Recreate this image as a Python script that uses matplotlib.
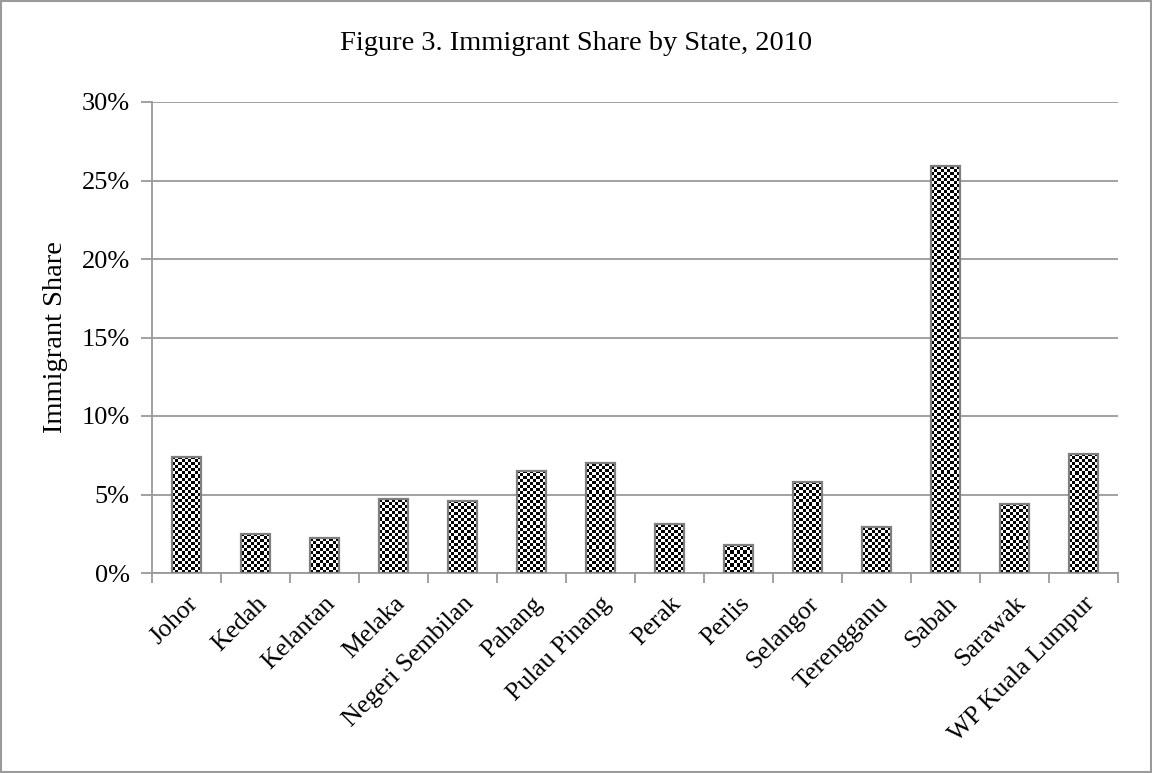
import matplotlib
matplotlib.use("Agg")
import matplotlib.pyplot as plt
import numpy as np
from matplotlib.patches import Rectangle
from matplotlib.ticker import FuncFormatter

states = ["Johor", "Kedah", "Kelantan", "Melaka", "Negeri Sembilan", "Pahang",
          "Pulau Pinang", "Perak", "Perlis", "Selangor", "Terengganu", "Sabah",
          "Sarawak", "WP Kuala Lumpur"]
share = [7.4, 2.5, 2.2, 4.7, 4.6, 6.5, 7.0, 3.1, 1.8, 5.8, 2.9, 25.9, 4.4, 7.6]

plt.rcParams['font.family'] = ['Liberation Serif', 'DejaVu Serif']
grey = '#9a9a9a'

fig = plt.figure(figsize=(11.52, 7.73), dpi=100)
ax = fig.add_axes([152 / 1152, 1 - 573 / 773, (1118 - 152) / 1152, (573 - 102) / 773])

x = np.arange(len(states))
bars = ax.bar(x, share, width=0.41, facecolor='none', edgecolor='#7f7f7f', linewidth=1.6, zorder=3)

# checkerboard fill, ~3 px cells, clipped to each bar
cell = 3
px_per_unit = 471 / 30
for b in bars:
    rows = max(int(b.get_height() * px_per_unit / cell), 1)
    cols = max(int(28 / cell), 1)
    pattern = np.indices((rows, cols)).sum(axis=0) % 2
    im = ax.imshow(pattern, cmap='gray', interpolation='nearest', aspect='auto',
                   extent=(b.get_x(), b.get_x() + b.get_width(), 0, b.get_height()),
                   zorder=2.9)
    im.set_clip_path(b)

ax.set_xlim(-0.5, len(states) - 0.5)
ax.set_ylim(0, 30)
ax.set_yticks(np.arange(0, 31, 5))
ax.yaxis.set_major_formatter(FuncFormatter(lambda v, p: f"{v:.0f}%"))
ax.yaxis.grid(True, color=grey, linewidth=1.3, zorder=0)
ax.set_axisbelow(True)

ax.set_xticks(x)
ax.set_xticklabels(states, rotation=45, ha='right', rotation_mode='anchor', fontsize=18.5)
ax.set_xticks(np.arange(-0.5, len(states) + 0.5, 1), minor=True)
ax.tick_params(axis='x', which='major', length=0, pad=14)
ax.tick_params(axis='x', which='minor', length=7, color=grey, width=1.3, direction='out')
ax.tick_params(axis='y', length=8, color=grey, width=1.3, labelsize=19, pad=8)

for s in ['top', 'right']:
    ax.spines[s].set_visible(False)
for s in ['left', 'bottom']:
    ax.spines[s].set_color(grey)
    ax.spines[s].set_linewidth(1.3)

ax.set_ylabel("Immigrant Share", fontsize=20.5, labelpad=10)
fig.text(0.5, 1 - 43 / 773, "Figure 3. Immigrant Share by State, 2010", ha='center', va='center', fontsize=20.5)

fig.patches.append(Rectangle((0.001, 0.001), 0.998, 0.998, transform=fig.transFigure,
                             fill=False, edgecolor=grey, linewidth=1.5))

fig.savefig("out.png", dpi=100)
